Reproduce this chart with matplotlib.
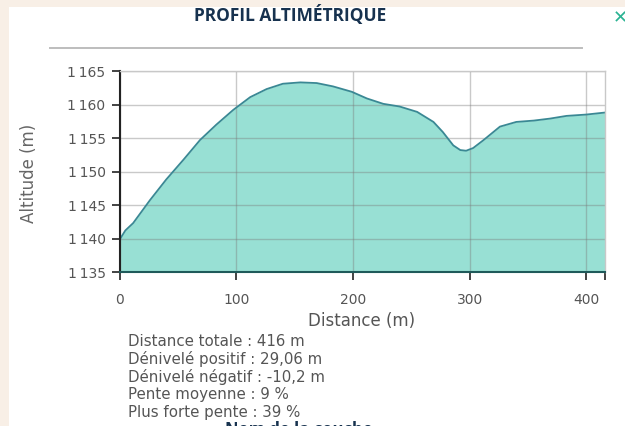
import matplotlib
matplotlib.use('Agg')
import matplotlib.pyplot as plt
from matplotlib.patches import Rectangle
from matplotlib.lines import Line2D

plt.rcParams['font.family'] = ['DejaVu Sans']

W, H = 625, 426

# profile (distance m, altitude m)
distance = [0, 5, 11.7, 26, 40, 55, 69, 83, 97.5, 112, 126, 140, 155, 169, 183,
            199, 212, 226, 240, 255, 269, 277, 286, 292, 297, 303, 312, 326,
            340, 355, 369, 383, 400, 416]
altitude = [1139.8, 1141.2, 1142.3, 1145.7, 1148.8, 1151.8, 1154.7, 1157.0,
            1159.2, 1161.1, 1162.3, 1163.1, 1163.3, 1163.2, 1162.7, 1161.9,
            1160.9, 1160.1, 1159.7, 1158.9, 1157.4, 1155.9, 1153.9, 1153.2,
            1153.1, 1153.5, 1154.7, 1156.7, 1157.4, 1157.6, 1157.9, 1158.3,
            1158.5, 1158.8]

x_ticks = [0, 100, 200, 300, 400]
y_ticks = [1135, 1140, 1145, 1150, 1155, 1160, 1165]
y_ticklabels = ['1\u2009135', '1\u2009140', '1\u2009145', '1\u2009150',
                '1\u2009155', '1\u2009160', '1\u2009165']

stats = [
    'Distance totale : 416 m',
    'Dénivelé positif : 29,06 m',
    'Dénivelé négatif : -10,2 m',
    'Pente moyenne : 9 %',
    'Plus forte pente : 39 %',
]

FILL = '#98e0d4'
EDGE = '#3a8894'
NAVY = '#17324f'
GREY = '#555555'


def fx(px):
    return px / W


def fy(py):
    return 1 - py / H


fig = plt.figure(figsize=(W / 100, H / 100), dpi=100, facecolor='#f8efe6')
# white panel behind everything
fig.patches.append(Rectangle((fx(8.5), 0), 1, fy(7), transform=fig.transFigure,
                             facecolor='white', edgecolor='none', zorder=-10))

fig.text(fx(290), fy(15.5), 'PROFIL ALTIMÉTRIQUE', ha='center', va='center',
         family='Open Sans', fontweight='bold', fontsize=12.5, color=NAVY)
fig.text(fx(620), fy(18), '✕', ha='center', va='center', fontsize=13,
         color='#2bb393')
fig.lines.append(Line2D([fx(50), fx(582)], [fy(47.5), fy(47.5)],
                        transform=fig.transFigure, color='#bdbdbd', lw=1.4))

ax = fig.add_axes([fx(119.5), fy(272), fx(605) - fx(119.5), fy(71) - fy(272)])
ax.set_zorder(5)
ax.set_facecolor('white')
ax.fill_between(distance, altitude, 1135, color=FILL, lw=0, zorder=1)
ax.plot(distance, altitude, color=EDGE, lw=1.3, zorder=3)

ax.set_xlim(0, 416)
ax.set_ylim(1135, 1165)
ax.set_xticks(x_ticks)
ax.set_xticks([416], minor=True)
ax.set_yticks(y_ticks)
ax.set_yticklabels(y_ticklabels)
ax.grid(True, color='#7a7a7a', alpha=0.4, lw=1, zorder=2)
ax.set_axisbelow(False)

ax.tick_params(axis='x', which='both', length=6, width=1.2, color='#222',
               pad=9, labelsize=10, labelcolor=GREY, direction='out')
ax.tick_params(axis='y', length=6, width=1.2, color='#222', pad=4,
               labelsize=10, labelcolor=GREY, direction='out')
for s in ['top', 'right']:
    ax.spines[s].set_color('#c8c8c8')
    ax.spines[s].set_linewidth(1)
ax.spines['left'].set_color('#222')
ax.spines['left'].set_linewidth(1.5)
ax.spines['bottom'].set_color('#1f5a5a')
ax.spines['bottom'].set_linewidth(1.5)
for s in ax.spines.values():
    s.set_zorder(4)

fig.text(fx(362), fy(321), 'Distance (m)', ha='center', va='center',
         fontsize=12, color=GREY)
fig.text(fx(29), fy(173), 'Altitude (m)', ha='center', va='center',
         rotation=90, fontsize=12, color='#666666')

for i, line in enumerate(stats):
    fig.text(fx(128), fy(341 + 18 * i), line, ha='left', va='center',
             fontsize=10.8, color=GREY)

fig.text(fx(225), fy(421), 'Nom de la couche', ha='left', va='top',
         family='Open Sans', fontweight='bold', fontsize=12, color=NAVY)

fig.savefig('out.png', dpi=100, facecolor=fig.get_facecolor())
